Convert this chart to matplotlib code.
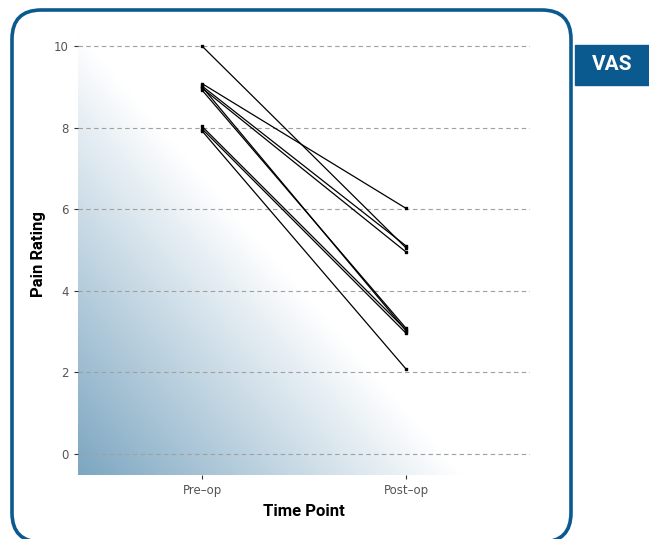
import numpy as np
import matplotlib
matplotlib.use("Agg")
import matplotlib.pyplot as plt
from matplotlib.patches import FancyBboxPatch, Rectangle

# data (small vertical jitter kept as seen)
time_points = ["Pre\u2013op", "Post\u2013op"]
pre_op = [10.0, 9.08, 9.02, 8.97, 8.92, 9.0, 8.03, 7.97, 7.92]
post_op = [5.05, 6.02, 5.1, 4.95, 3.08, 3.02, 3.04, 2.96, 2.08]
y_ticks = [0, 2, 4, 6, 8, 10]

W, H = 649, 539
fig = plt.figure(figsize=(W / 100, H / 100), dpi=100)
ax = fig.add_axes([78 / W, 1 - 475 / H, (530 - 78) / W, (475 - 33) / H])

# gradient triangle in lower-left
n = 400
xx, yy = np.meshgrid(np.linspace(0, 1, n), np.linspace(0, 1, n))
inten = np.clip(1 - (xx / 0.85 + yy), 0, 1)
base = np.array([0x7c, 0xa6, 0xc1]) / 255.0
img = np.ones((n, n, 3)) - inten[..., None] * (1 - base)
ax.imshow(img, extent=[0, 1, 0, 1], transform=ax.transAxes, origin="lower",
          aspect="auto", zorder=0)

for a, b in zip(pre_op, post_op):
    ax.plot([0, 1], [a, b], color="black", lw=0.9, zorder=3)
ax.scatter([0] * len(pre_op), pre_op, s=4, marker="s", color="black", zorder=4)
ax.scatter([1] * len(post_op), post_op, s=4, marker="s", color="black", zorder=4)

ax.set_xlim(-0.608, 1.608)
ax.set_ylim(-0.52, 10.32)
ax.set_xticks([0, 1])
ax.set_xticklabels(time_points)
ax.set_yticks(y_ticks)
ax.yaxis.grid(True, linestyle=(0, (4, 3)), color="#a0a0a0", lw=0.8)
ax.set_axisbelow(False)
for s in ax.spines.values():
    s.set_visible(False)
ax.tick_params(axis="both", length=3, width=0.8, color="#333333",
               labelcolor="#555555", labelsize=8.5)
ax.set_ylabel("Pain Rating", fontsize=12, fontweight="bold", labelpad=6)
ax.set_xlabel("Time Point", fontsize=12, fontweight="bold", labelpad=5)
for lab in [ax.xaxis.label, ax.yaxis.label]:
    lab.set_family(["Roboto", "DejaVu Sans"])

# rounded frame (bottom edge sits just below the image)
blue = "#0b5a8f"
frame = FancyBboxPatch((12 / W, -3 / H), (571 - 12) / W, 1 - 7 / H,
                       boxstyle="round,pad=0,rounding_size=0.045",
                       transform=fig.transFigure, fill=False,
                       edgecolor=blue, lw=2.6, mutation_aspect=W / H)
fig.patches.append(frame)

# VAS tag
tag = Rectangle((575 / W, 1 - 85 / H), (W - 575) / W, 40 / H,
                transform=fig.transFigure, color=blue)
fig.patches.append(tag)
fig.text(612 / W, 1 - 65 / H, "VAS", color="white", fontsize=15,
         fontweight="bold", ha="center", va="center",
         family=["Roboto", "DejaVu Sans"])

fig.savefig("out.png", dpi=100)
